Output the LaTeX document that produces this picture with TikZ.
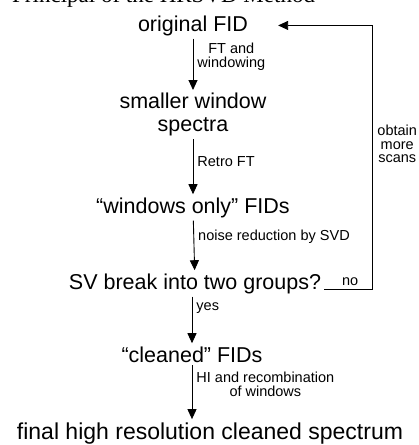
\documentclass[tikz,border=0pt]{standalone}
\usepackage{fontspec}
\setmainfont{Liberation Sans}
\newfontfamily\titrefont{Liberation Serif}
\usetikzlibrary{arrows.meta}
\tikzset{
  etape/.style={font=\fontsize{21.5}{23}\selectfont, inner sep=3pt, anchor=base},
  legende/.style={font=\fontsize{14.5}{14.5}\selectfont, align=center, anchor=west, inner sep=2pt, xshift=2pt},
  fleche/.style={line width=0.9pt, -{Triangle[length=10pt,width=9pt]}},
}
\begin{document}
\begin{tikzpicture}[x=1pt,y=-1pt]
  \path[use as bounding box, clip] (0,0) rectangle (419,445);
  % titre, coupé en haut
  \node[anchor=base west, inner sep=0pt, font=\titrefont\fontsize{23}{25}\selectfont] (titre) at (12,2.5) {Principal of the HRSVD Method};

  \node[etape] (fid) at (193,31) {original FID};
  \node[etape, anchor=north, align=center] (fenetre) at (193,90) {smaller window\\spectra};
  \node[etape] (seules) at (193,213) {“windows only” FIDs};
  \node[etape] (sv) at (195,289) {SV break into two groups?};
  \node[etape] (propres) at (192,362) {“cleaned” FIDs};
  \node[etape, font=\fontsize{23}{25}\selectfont] (final) at (210,439) {final high resolution cleaned spectrum};

  % les flèches
  \draw[fleche] (fid) -- node[legende, pos=0.35] {FT and\\windowing} (fenetre);
  \draw[fleche] (fenetre) -- node[legende, pos=0.4] {Retro FT} (seules);
  \draw[fleche] (seules) -- node[legende, pos=0.33] {noise reduction by SVD} (sv);
  \draw[fleche] (sv.south -| propres) -- node[legende, pos=0.25] {yes} (propres);
  \draw[fleche] (propres) -- node[legende, pos=0.35] {HI and recombination\\of windows} (propres |- final.north);

  % retour
  \coordinate (coin) at (372,0);
  \draw[fleche] (sv.base east) -- node[legende, anchor=south, xshift=0pt, yshift=1pt] {no} (sv.base east -| coin)
    -- node[legende, pos=0.55, xshift=1pt, font=\fontsize{14.5}{13.5}\selectfont] {obtain\\more\\scans} (fid.east -| coin)
    -- ([xshift=27pt]fid.east);
\end{tikzpicture}
\end{document}
